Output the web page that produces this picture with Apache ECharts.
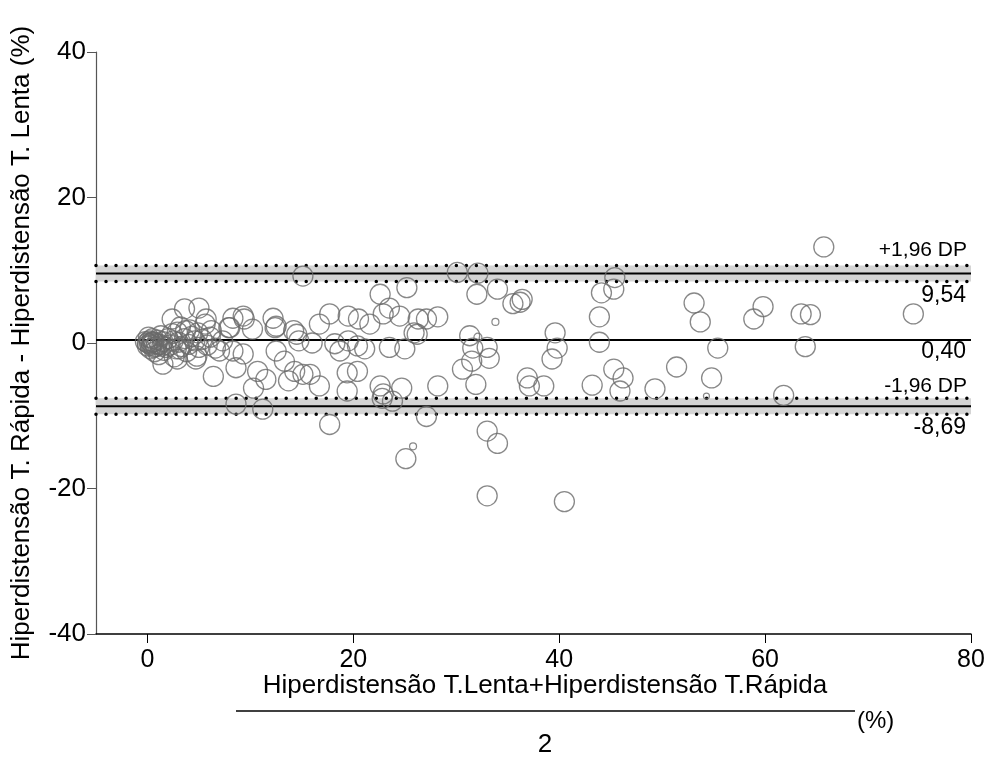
<!DOCTYPE html>
<html>
<head>
<meta charset="utf-8">
<script src="https://cdn.jsdelivr.net/npm/echarts@6/dist/echarts.min.js"></script>
<style>
  html, body { margin: 0; padding: 0; background: #fff; }
  #chart { width: 993px; height: 761px; }
</style>
</head>
<body>
<div id="chart"></div>
<script>
// Bland-Altman: média das duas técnicas (x) vs diferença (y)
var meanDiff = 0.40;
var upperLoA = 9.54;
var lowerLoA = -8.69;
var upperCI = [8.44, 10.64];
var lowerCI = [-9.79, -7.59];
var xTicks = [0, 20, 40, 60, 80];

// pontos normais [media, diferenca]
var points = [
    // agrupamento perto de zero
    [0, 0], [0.2, 0.3], [0.4, -0.3], [0.6, 0.1], [0.8, -0.5], [0.3, -0.8], [1.0, 0.4], [1.2, -0.2],
    [0.1, 0.8], [0.5, 0.6], [1.5, 0.2], [1.8, -0.6], [1.3, 1.0], [2.0, 0.6], [2.2, -0.3], [2.5, 0.3],
    [0.7, -1.2], [1.6, -1.0], [2.8, -0.8], [2.4, 1.3], [3.0, 0.1], [3.3, -0.5], [3.6, 0.6], [2.9, 1.5],
    [1.1, -1.6], [0.0, -0.4], [-0.2, 0.2], [4.0, -0.2], [4.3, 0.9], [3.8, -1.2], [4.6, 0.3], [5.0, -0.6],
    [5.3, 0.5], [5.8, -0.3], [6.1, 0.8], [2.6, -1.9], [3.2, 2.2], [4.1, 1.8], [4.9, 1.4],
    [0.2, -0.1], [0.5, 0.2], [0.9, -0.1], [0.4, 0.0], [1.4, -0.4], [0.6, -0.6],
    // 0 a 15
    [3.6, 4.7], [5.0, 4.8], [2.4, 3.3], [5.7, 3.3], [8.3, 3.4], [9.3, 3.7], [10.2, 1.9], [12.2, 3.4],
    [12.5, 2.3], [14.2, 1.7], [14.7, 0.3], [1.5, -2.9], [2.9, -2.2], [4.7, -2.2], [6.4, -4.6], [8.6, -3.4],
    [9.3, -1.5], [10.7, -3.9], [10.3, -6.2], [11.5, -5.0], [12.5, -1.1], [13.3, -2.5], [13.7, -5.2],
    [15.1, -4.3], [8.6, -8.4], [11.2, -9.1], [15.1, 9.2], [7.3, 0.3], [7.9, 2.1], [6.2, 1.7], [3.7, 1.7],
    [6.6, -0.7], [5.6, 2.6], [9.4, 3.3], [12.4, 2.1], [8.3, -1.1], [4.8, -1.8], [3.1, -0.8], [7.0, -1.1],
    [8.0, 2.1],
    // 15 a 35
    [30.1, 9.7], [32.1, 9.6], [25.2, 7.6], [32.0, 6.7], [22.6, 6.7], [23.5, 4.8], [22.9, 4.0], [24.5, 3.7],
    [17.7, 4.0], [19.5, 3.7], [20.5, 3.3], [21.6, 2.6], [16.7, 2.6], [26.3, 3.3], [27.1, 3.3], [28.2, 3.6],
    [25.9, 1.4], [26.2, 1.2], [14.5, 1.2], [16.0, 0.0], [18.2, -0.1], [18.7, -1.1], [19.5, 0.3], [20.4, -0.4],
    [21.1, -0.8], [23.5, -0.6], [25.0, -0.8], [31.3, 1.0], [31.6, -0.7], [33.0, -0.6], [30.6, -3.6],
    [31.5, -2.5], [14.3, -3.9], [15.8, -4.3], [16.7, -5.9], [19.4, -4.1], [20.4, -3.9], [19.4, -6.6],
    [22.6, -5.9], [22.9, -7.0], [23.8, -8.0], [24.7, -6.2], [28.2, -5.9], [31.9, -5.7], [27.1, -10.1],
    [17.7, -11.2], [25.1, -15.9], [33.0, -12.1], [33.0, -21.0], [22.8, -7.6],
    // 34 a 47
    [45.4, 9.0], [45.3, 7.4], [44.1, 6.9], [34.0, 7.4], [35.5, 5.4], [36.4, 6.0], [36.2, 5.6], [43.9, 3.6],
    [39.6, 1.4], [39.8, -0.7], [39.3, -2.2], [43.9, 0.1], [33.2, -2.1], [36.9, -4.8], [37.1, -5.9],
    [38.5, -5.9], [43.2, -5.8], [45.3, -3.6], [46.2, -4.8], [45.9, -6.6], [34.0, -13.8], [40.5, -21.8],
    // acima de 47
    [65.7, 13.2], [53.1, 5.5], [53.7, 2.9], [59.8, 5.0], [58.9, 3.3], [63.5, 4.0], [64.4, 3.9], [55.4, -0.7],
    [63.9, -0.5], [51.4, -3.3], [54.8, -4.8], [49.3, -6.3], [61.8, -7.2], [74.4, 4.0]
];
// pontos pequenos [media, diferenca, tamanho]
var smallPoints = [
    [33.8, 2.9, 7], [32.1, 0.8, 8], [25.8, -14.2, 7], [54.3, -7.3, 6]
];

var FONT = "'Liberation Sans', Arial, sans-serif";
var chart = echarts.init(document.getElementById('chart'));

var flat = function (v) { return [[-5, v], [80, v]]; };
var dotStyle = { color: '#000', width: 3.5, type: [0.01, 10], cap: 'round' };
var solidStyle = { color: '#000', width: 2 };
var lineSeries = function (v, style) {
    return {
        type: 'line', data: flat(v), symbol: 'none', silent: true,
        lineStyle: style, z: 3
    };
};

var option = {
    animation: false,
    grid: { left: 96, right: 22, top: 52, bottom: 127, outerBoundsMode: 'none' },
    xAxis: {
        type: 'value', min: -5, max: 80,
        axisLine: { onZero: false, lineStyle: { color: '#000', width: 1.5 } },
        axisTick: { show: true, length: 9, customValues: xTicks, lineStyle: { color: '#000' } },
        axisLabel: { customValues: xTicks, margin: 14, color: '#000', fontSize: 25, fontFamily: FONT },
        splitLine: { show: false }
    },
    yAxis: {
        type: 'value', min: -40, max: 40, interval: 20,
        name: 'Hiperdistensão T. Rápida - Hiperdistensão T. Lenta (%)',
        nameLocation: 'middle', nameGap: 61,
        nameTextStyle: { color: '#000', fontSize: 26, fontFamily: FONT },
        axisLine: { show: true, onZero: false, lineStyle: { color: '#555', width: 1.2 } },
        axisTick: { show: true, length: 9, lineStyle: { color: '#555' } },
        axisLabel: { margin: 10, color: '#000', fontSize: 26, fontFamily: FONT },
        splitLine: { show: false }
    },
    series: [
        {
            type: 'line', data: [], silent: true,
            markArea: {
                silent: true,
                itemStyle: { color: '#d4d4d4' },
                data: [
                    [{ xAxis: -5, yAxis: upperCI[0] }, { xAxis: 80, yAxis: upperCI[1] }],
                    [{ xAxis: -5, yAxis: lowerCI[0] }, { xAxis: 80, yAxis: lowerCI[1] }]
                ]
            }
        },
        lineSeries(meanDiff, solidStyle),
        lineSeries(upperLoA, solidStyle),
        lineSeries(lowerLoA, solidStyle),
        lineSeries(upperCI[0], dotStyle),
        lineSeries(upperCI[1], dotStyle),
        lineSeries(lowerCI[0], dotStyle),
        lineSeries(lowerCI[1], dotStyle),
        {
            type: 'scatter', data: points, symbolSize: 20, z: 5,
            itemStyle: { color: 'rgba(0,0,0,0)', borderColor: '#6a6a6a', borderWidth: 1.3 }
        },
        {
            type: 'scatter', data: smallPoints, z: 5,
            symbolSize: function (d) { return d[2]; },
            itemStyle: { color: 'rgba(0,0,0,0)', borderColor: '#6a6a6a', borderWidth: 1.2 }
        }
    ],
    graphic: [
        { type: 'text', right: 26, top: 240, style: { text: '+1,96 DP', font: '21px ' + FONT, fill: '#000' } },
        { type: 'text', right: 27, top: 284, style: { text: '9,54', font: '23px ' + FONT, fill: '#000' } },
        { type: 'text', right: 27, top: 340, style: { text: '0,40', font: '23px ' + FONT, fill: '#000' } },
        { type: 'text', right: 26, top: 376, style: { text: '-1,96 DP', font: '21px ' + FONT, fill: '#000' } },
        { type: 'text', right: 27, top: 416, style: { text: '-8,69', font: '23px ' + FONT, fill: '#000' } },
        // rótulo do eixo x em forma de fração
        {
            type: 'text', x: 545, y: 686,
            style: { text: 'Hiperdistensão T.Lenta+Hiperdistensão T.Rápida', font: '26px ' + FONT, fill: '#000', align: 'center', verticalAlign: 'middle' }
        },
        { type: 'line', shape: { x1: 236, y1: 711, x2: 855, y2: 711 }, style: { stroke: '#000', lineWidth: 1.5 } },
        { type: 'text', x: 545, y: 745, style: { text: '2', font: '26px ' + FONT, fill: '#000', align: 'center', verticalAlign: 'middle' } },
        { type: 'text', x: 857, y: 721, style: { text: '(%)', font: '24px ' + FONT, fill: '#000', verticalAlign: 'middle' } }
    ]
};
chart.setOption(option);
</script>
</body>
</html>
